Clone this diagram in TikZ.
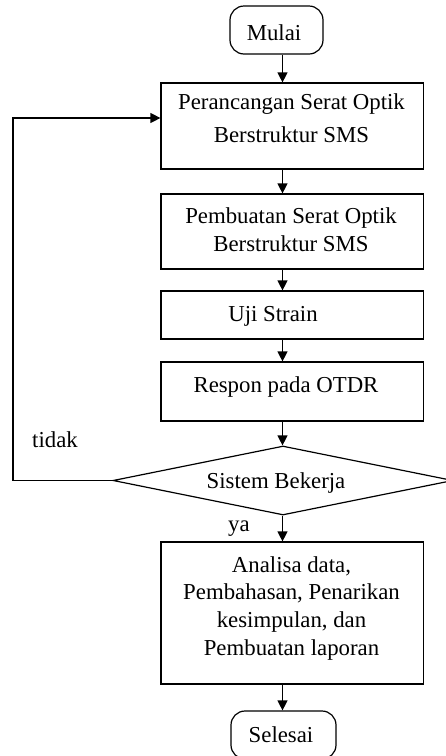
\documentclass[tikz,border=0pt]{standalone}
\usepackage{fontspec}
\setmainfont{Liberation Serif}
\usetikzlibrary{shapes.geometric,arrows.meta}
\begin{document}
\begin{tikzpicture}[x=1pt,y=-1pt,line width=1.2pt,
  every node/.style={font=\fontsize{22.8}{27.7}\selectfont},
  box/.style={draw,rectangle,inner sep=0pt,minimum width=262.5pt},
  term/.style={draw,rectangle,rounded corners=14pt,inner sep=0pt,minimum height=48pt},
  decide/.style={draw,diamond,inner sep=0pt,minimum width=340pt,minimum height=69pt},
  txt/.style={inner sep=0pt,align=center},
  arr/.style={-{Triangle[length=10pt,width=10pt]}}]
\useasboundingbox (0,0) rectangle (446,756);

% flowchart shapes
\node[term,minimum width=93pt]  (mulai) at (276.5,30) {};
\node[box,minimum height=86pt]  (b1) at (292.25,126) {};
\node[box,minimum height=75pt]  (b2) at (292.25,231.5) {};
\node[box,minimum height=48pt]  (b3) at (292.25,315) {};
\node[box,minimum height=59pt]  (b4) at (292.25,391.5) {};
\node[decide]                   (dec) at (283,480.5) {};
\node[box,minimum height=142pt] (b5) at (292.25,613) {};
\node[term,minimum width=105pt] (sel) at (283.5,735) {};

% texts
\node[txt] (tmul) at (274,32.2) {Mulai};
\node[txt,font=\fontsize{22.8}{33}\selectfont] (t1) at (291.5,118) {Perancangan Serat Optik\\Berstruktur SMS};
\node[txt] (t2) at (291,230) {Pembuatan Serat Optik\\Berstruktur SMS};
\node[txt] (t3) at (273,316.7) {Uji Strain};
\node[txt] (t4) at (286,386.7) {Respon pada OTDR};
\node[txt] (tdec) at (276,482.7) {Sistem Bekerja};
\node[txt] (t5) at (291.5,608.2) {Analisa data,\\Pembahasan, Penarikan\\kesimpulan, dan\\Pembuatan laporan};
\node[txt] (tsel) at (281,735) {Selesai};
\node[txt] (tidak) at (55,440) {tidak};
\node[txt] (ya) at (239,529) {ya};

% connectors
\coordinate (spine) at (282.5,0);
\coordinate (back) at (13,118);
\draw[arr] (mulai.south -| spine) -- (b1.north -| spine);
\draw[arr] (b1.south -| spine) -- (b2.north -| spine);
\draw[arr] (b2.south -| spine) -- (b3.north -| spine);
\draw[arr] (b3.south -| spine) -- (b4.north -| spine);
\draw[arr] (b4.south -| spine) -- (dec.north -| spine);
\draw[arr] (dec.south -| spine) -- (b5.north -| spine);
\draw[arr] (b5.south -| spine) -- (sel.north -| spine);
\draw[arr] (dec.west) -- (dec.west -| back) -- (back) -- (back -| b1.west);
\end{tikzpicture}
\end{document}
